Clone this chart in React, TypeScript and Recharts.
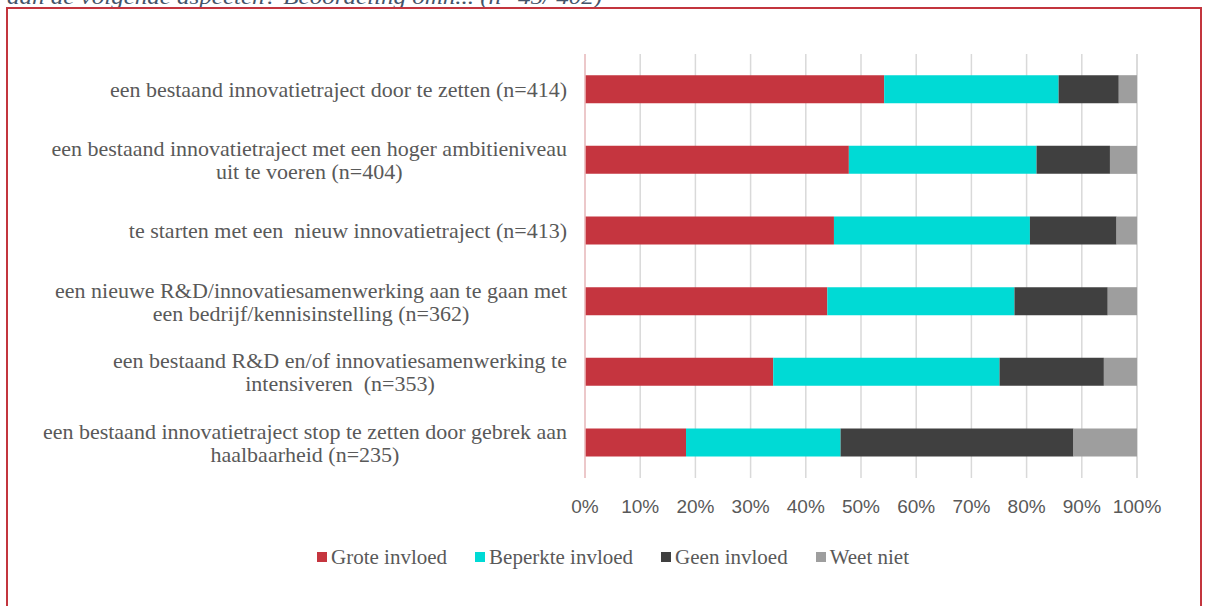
import { Bar, BarChart, CartesianGrid, XAxis, YAxis } from "recharts";

// categorieën (van boven naar beneden), regeleinden zoals in de figuur
const categories = [
  "een bestaand innovatietraject door te zetten (n=414)",
  "een bestaand innovatietraject met een hoger ambitieniveau\nuit te voeren (n=404)",
  "te starten met een  nieuw innovatietraject (n=413)",
  "een nieuwe R&D/innovatiesamenwerking aan te gaan met\neen bedrijf/kennisinstelling (n=362)",
  "een bestaand R&D en/of innovatiesamenwerking te\nintensiveren  (n=353)",
  "een bestaand innovatietraject stop te zetten door gebrek aan\nhaalbaarheid (n=235)",
];

const groteInvloed = [54.2, 47.8, 45.1, 43.9, 34.1, 18.3];
const beperkteInvloed = [31.6, 34.0, 35.5, 33.9, 41.0, 28.0];
const geenInvloed = [10.9, 13.3, 15.7, 16.9, 18.9, 42.2];
const weetNiet = [3.3, 4.9, 3.7, 5.3, 6.0, 11.5];

const xTicks = [0, 10, 20, 30, 40, 50, 60, 70, 80, 90, 100];

const series = [
  { key: "grote", name: "Grote invloed", color: "#C5353F" },
  { key: "beperkt", name: "Beperkte invloed", color: "#00DAD5" },
  { key: "geen", name: "Geen invloed", color: "#404040" },
  { key: "weet", name: "Weet niet", color: "#9E9E9E" },
];

const data = categories.map((label, i) => ({
  label,
  grote: groteInvloed[i],
  beperkt: beperkteInvloed[i],
  geen: geenInvloed[i],
  weet: weetNiet[i],
}));

const SERIF = '"Liberation Serif", "DejaVu Serif", serif';
const LABEL_SIZE = 22;
const GREY = "#595959";

let ctx: CanvasRenderingContext2D | null = null;
function measure(text: string) {
  if (!ctx) ctx = document.createElement("canvas").getContext("2d");
  if (!ctx) return text.length * LABEL_SIZE * 0.45;
  ctx.font = `${LABEL_SIZE}px ${SERIF}`;
  return ctx.measureText(text).width;
}

// Excel-achtige gewrapte labels: blok rechts uitgelijnd, regels gecentreerd
function CategoryTick(props: any) {
  const { x, y, payload } = props;
  const lines: string[] = String(payload.value).split("\n");
  const widths = lines.map(measure);
  const maxW = Math.max(...widths);
  const cx = x - maxW / 2;
  const lh = 23;
  const startY = y - ((lines.length - 1) * lh) / 2;
  return (
    <text fill={GREY} fontFamily={SERIF} fontSize={LABEL_SIZE} textAnchor="middle">
      {lines.map((l, i) => (
        <tspan key={i} x={cx} y={startY + i * lh} dy="0.35em" style={{ whiteSpace: "pre" }}>
          {l}
        </tspan>
      ))}
    </text>
  );
}

export default function App() {
  return (
    <div
      style={{
        position: "absolute",
        left: 0,
        top: 0,
        width: 1210,
        height: 606,
        overflow: "hidden",
        background: "#fff",
      }}
    >
      <svg width={1210} height={20} style={{ position: "absolute", left: 0, top: 0 }}>
        <text
          x={7}
          y={4}
          fill="#44546A"
          fontFamily={SERIF}
          fontStyle="italic"
          fontSize={21}
          textLength={595}
          lengthAdjust="spacingAndGlyphs"
        >
          aan de volgende aspecten? Beoordeling omh... (n=45/ 402)
        </text>
      </svg>
      <div
        style={{
          position: "absolute",
          left: 6,
          top: 7,
          width: 1196,
          height: 640,
          border: "2px solid #C3353E",
          boxSizing: "border-box",
        }}
      />
      <div style={{ position: "absolute", left: 0, top: 0 }}>
        <BarChart
          width={1210}
          height={606}
          data={data}
          layout="vertical"
          barCategoryGap="30%"
          margin={{ top: 54, right: 73, bottom: 98, left: 0 }}
        >
          <CartesianGrid horizontal={false} stroke="#D9D9D9" strokeWidth={1.5} />
          <XAxis
            type="number"
            domain={[0, 100]}
            ticks={xTicks}
            tickFormatter={(v) => `${v}%`}
            axisLine={false}
            tickLine={false}
            tickSize={0}
            tickMargin={22}
            height={30}
            interval={0}
            tick={{ fill: GREY, fontSize: 19, fontFamily: '"Liberation Sans", Arial, sans-serif' }}
          />
          <YAxis
            type="category"
            dataKey="label"
            width={585}
            axisLine={{ stroke: "#EFBFC2", strokeWidth: 1.5 }}
            tickLine={false}
            tickSize={0}
            tickMargin={18}
            interval={0}
            tick={<CategoryTick />}
          />
          {series.map((s) => (
            <Bar
              key={s.key}
              dataKey={s.key}
              name={s.name}
              stackId="a"
              fill={s.color}
              isAnimationActive={false}
            />
          ))}
        </BarChart>
      </div>
      <div
        style={{
          position: "absolute",
          top: 545,
          left: 317,
          display: "flex",
          alignItems: "center",
          fontFamily: SERIF,
          fontSize: 21,
          color: GREY,
          whiteSpace: "nowrap",
          lineHeight: "24px",
        }}
      >
        {series.map((s, i) => (
          <div
            key={s.key}
            style={{ display: "flex", alignItems: "center", marginRight: i < series.length - 1 ? 28 : 0 }}
          >
            <span style={{ width: 10, height: 10, background: s.color, marginRight: 4, display: "inline-block" }} />
            <span>{s.name}</span>
          </div>
        ))}
      </div>
    </div>
  );
}
